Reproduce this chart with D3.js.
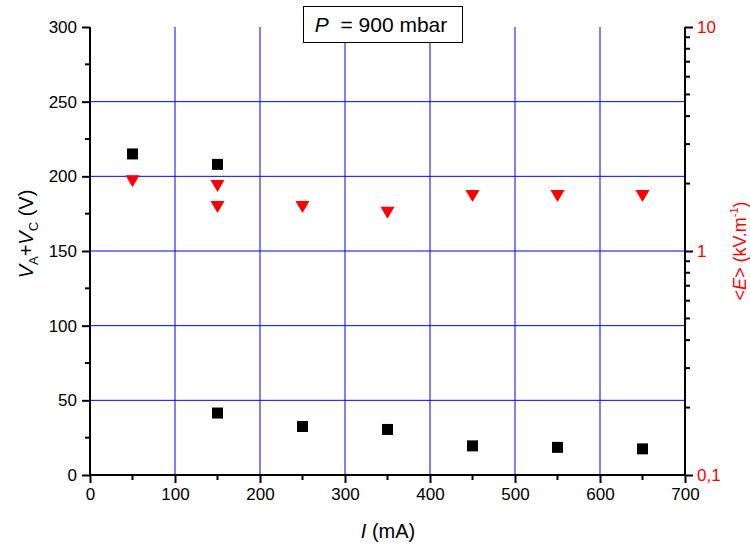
<!DOCTYPE html>
<html><head><meta charset="utf-8">
<script src="https://cdn.jsdelivr.net/npm/d3@7"></script>
<style>body{margin:0;background:#fff}svg{font-family:Arial,"Liberation Sans",sans-serif}</style>
</head><body>
<svg id="c" width="750" height="548"></svg>
<script>
const vI = [50,150,150,250,350,450,550,650];
const vV = [215,208,41.5,32.5,30.5,19.5,18.5,17.5];
const eI = [50,150,150,250,350,450,550,650];
const eE = [2.05,1.95,1.57,1.57,1.48,1.76,1.76,1.76];
const xTicks = [0,100,200,300,400,500,600,700];
const yTicks = [0,50,100,150,200,250,300];
const rTicks = [0.1,1,10];
const rLabels = ["0,1","1","10"];

const svg = d3.select("#c");
const L=90,R=685,T=27,B=475;
const x = d3.scaleLinear().domain([0,700]).range([L,R]);
const y = d3.scaleLinear().domain([0,300]).range([B,T]);
const yr = d3.scaleLog().domain([0.1,10]).range([B,T]);

// grid
const g = svg.append("g");
g.selectAll("line.v").data(xTicks.filter(d=>d>0&&d<700)).enter().append("line")
 .attr("x1",d=>x(d)).attr("x2",d=>x(d)).attr("y1",T).attr("y2",B)
 .attr("stroke","#0000ff").attr("stroke-width",1);
g.selectAll("line.h").data(yTicks.filter(d=>d>0&&d<300)).enter().append("line")
 .attr("y1",d=>y(d)).attr("y2",d=>y(d)).attr("x1",L).attr("x2",R)
 .attr("stroke","#0000ff").attr("stroke-width",1);

// axes
const ax = svg.append("g").attr("transform",`translate(0,${B})`)
 .call(d3.axisBottom(x).tickValues(xTicks).tickSize(8).tickPadding(5).tickFormat(d3.format("d")));
const ay = svg.append("g").attr("transform",`translate(${L},0)`)
 .call(d3.axisLeft(y).tickValues(yTicks).tickSize(8).tickPadding(5));
const ar = svg.append("g").attr("transform",`translate(${R},0)`)
 .call(d3.axisRight(yr).tickValues(rTicks).tickSize(8).tickPadding(4).tickFormat((d,i)=>rLabels[i]));
[ax,ay,ar].forEach(a=>{
  a.select(".domain").attr("stroke","#000").attr("stroke-width",2);
  a.selectAll(".tick line").attr("stroke","#000").attr("stroke-width",2);
  a.selectAll(".tick text").attr("font-size",17).attr("fill","#000").attr("font-family","Arial, Liberation Sans, sans-serif");
});
ar.selectAll(".tick text").attr("fill","#ff0000");
ax.select(".domain").attr("d",`M${L},0H${R}`);
ay.select(".domain").attr("d",`M0,${T}V${B}`);
ar.select(".domain").attr("d",`M0,${T}V${B}`);

// minor ticks
const xMinor = d3.range(50,700,100);
svg.append("g").selectAll("line").data(xMinor).enter().append("line")
 .attr("x1",d=>x(d)).attr("x2",d=>x(d)).attr("y1",B).attr("y2",B+5)
 .attr("stroke","#000").attr("stroke-width",2);
const yMinor = d3.range(25,300,50);
svg.append("g").selectAll("line").data(yMinor).enter().append("line")
 .attr("y1",d=>y(d)).attr("y2",d=>y(d)).attr("x1",L).attr("x2",L-5)
 .attr("stroke","#000").attr("stroke-width",2);
const rMinor = yr.ticks().filter(d=>rTicks.indexOf(d)<0);
svg.append("g").selectAll("line").data(rMinor).enter().append("line")
 .attr("y1",d=>yr(d)).attr("y2",d=>yr(d)).attr("x1",R).attr("x2",R+5)
 .attr("stroke","#000").attr("stroke-width",2);

// data
svg.append("g").selectAll("rect").data(vI.map((d,i)=>[d,vV[i]])).enter().append("rect")
 .attr("x",d=>x(d[0])-5.5).attr("y",d=>y(d[1])-5.5).attr("width",11).attr("height",11).attr("fill","#000");
svg.append("g").selectAll("path").data(eI.map((d,i)=>[d,eE[i]])).enter().append("path")
 .attr("d","M-7,-6L7,-6L0,6Z").attr("transform",d=>`translate(${x(d[0])},${yr(d[1])})`).attr("fill","#ff0000");

// title box
svg.append("rect").attr("x",303.5).attr("y",6.5).attr("width",159).attr("height",36)
 .attr("fill","#fff").attr("stroke","#000").attr("stroke-width",1);
const tt = svg.append("text").attr("x",381).attr("y",32).attr("text-anchor","middle").attr("font-size",21);
tt.append("tspan").attr("font-style","italic").text("P");
tt.append("tspan").attr("xml:space","preserve").text("  = 900 mbar");

// x label
const xl = svg.append("text").attr("x",388).attr("y",538).attr("text-anchor","middle").attr("font-size",20);
xl.append("tspan").attr("font-style","italic").text("I");
xl.append("tspan").text(" (mA)");

// left label
const yl = svg.append("text").attr("transform","translate(33,234) rotate(-90)").attr("text-anchor","middle").attr("font-size",20);
yl.append("tspan").attr("font-style","italic").text("V");
yl.append("tspan").attr("font-size",13).attr("dy",5).text("A");
yl.append("tspan").attr("dy",-5).text("+");
yl.append("tspan").attr("font-style","italic").text("V");
yl.append("tspan").attr("font-size",13).attr("dy",5).text("C");
yl.append("tspan").attr("dy",-5).text(" (V)");

// right label
const rl = svg.append("text").attr("transform","translate(746,251) rotate(-90)").attr("text-anchor","middle").attr("font-size",18).attr("fill","#ff0000");
rl.append("tspan").text("<");
rl.append("tspan").attr("font-style","italic").text("E");
rl.append("tspan").text(">\u00a0(kV.m");
rl.append("tspan").attr("font-size",11).attr("dy",-8).text("-1");
rl.append("tspan").attr("dy",8).text(")");
</script>
</body></html>
